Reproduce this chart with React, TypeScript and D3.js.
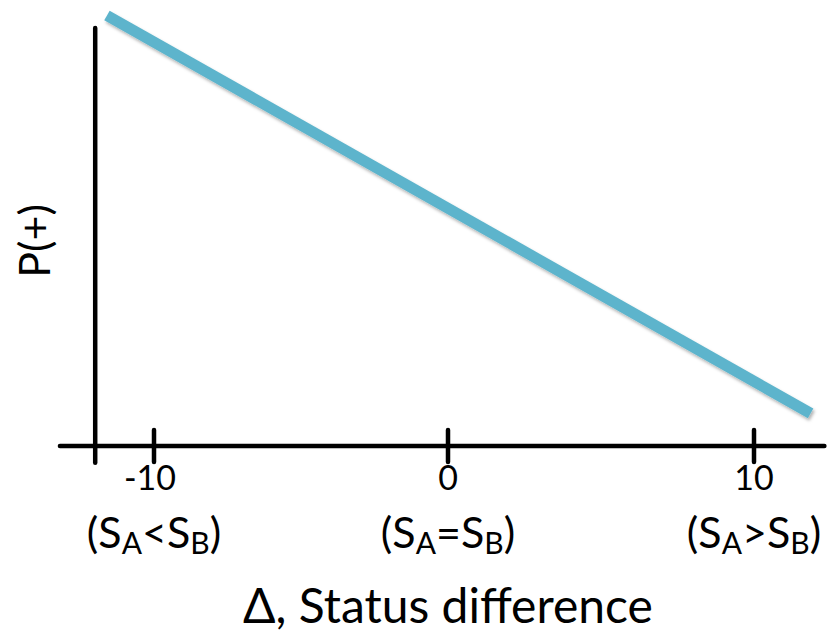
import React from "react";
import * as d3 from "d3";

const W = 827;
const H = 635;

// Status difference ticks and their labels
const tickValues = [-10, 0, 10];
const tickLabels = ["-10", "0", "10"];
const relationLabels = [
  { a: "A", op: "<", b: "B" },
  { a: "A", op: "=", b: "B" },
  { a: "A", op: ">", b: "B" },
];

// Probability of a positive outcome along the status difference
const lineDelta = [-11.6, 11.85];
const lineProb = [1.03, 0.078];

// Axis extents in data units
const xAxisExtent = [-13.2, 12.3];
const yAxisExtent = [0, 1.0];
const yAxisPos = -12.0;
const yAxisBottom = -0.04;

const FONT = "Lato, 'Open Sans', sans-serif";

export default function App() {
  const x = d3.scaleLinear().domain([-10, 0, 10]).range([154, 448, 754]);
  const y = d3.scaleLinear().domain([0, 1]).range([446, 28]);

  const line = d3
    .line<number>()
    .x((_, i) => x(lineDelta[i]))
    .y((d) => y(d));

  const tickTop = y(0) - 16;
  const tickBottom = y(0) + 16;

  return (
    <svg
      width={W}
      height={H}
      style={{ position: "absolute", left: 0, top: 0, background: "#fff" }}
    >
      <defs>
        <filter id="shadow" x="-10%" y="-10%" width="120%" height="130%">
          <feDropShadow dx="1.5" dy="2.5" stdDeviation="1.8" floodColor="#000" floodOpacity="0.3" />
        </filter>
      </defs>

      {/* x axis */}
      <line
        x1={x(xAxisExtent[0])}
        x2={x(xAxisExtent[1])}
        y1={y(0)}
        y2={y(0)}
        stroke="#000"
        strokeWidth={4.5}
        strokeLinecap="round"
      />
      {tickValues.map((t) => (
        <line
          key={t}
          x1={x(t)}
          x2={x(t)}
          y1={tickTop}
          y2={tickBottom}
          stroke="#000"
          strokeWidth={4.5}
          strokeLinecap="round"
        />
      ))}

      {/* y axis */}
      <line
        x1={x(yAxisPos)}
        x2={x(yAxisPos)}
        y1={y(yAxisBottom)}
        y2={y(yAxisExtent[1])}
        stroke="#000"
        strokeWidth={4.5}
        strokeLinecap="round"
      />

      {/* tick labels */}
      {tickValues.map((t, i) => (
        <text
          key={"t" + t}
          x={x(t) - (i === 0 ? 4 : 0)}
          y={490}
          textAnchor="middle"
          fontFamily={FONT}
          fontSize={34}
          fill="#000"
        >
          {tickLabels[i]}
        </text>
      ))}

      {/* relation labels */}
      {tickValues.map((t, i) => {
        const r = relationLabels[i];
        return (
          <text
            key={"r" + t}
            x={x(t)}
            y={548}
            textAnchor="middle"
            fontFamily={FONT}
            fontSize={43}
            fill="#000"
          >
            (S
            <tspan fontSize={30} dy={6}>{r.a}</tspan>
            <tspan dy={-6}>{r.op}S</tspan>
            <tspan fontSize={30} dy={6}>{r.b}</tspan>
            <tspan dy={-6}>)</tspan>
          </text>
        );
      })}

      {/* x axis title */}
      <text
        x={448}
        y={623}
        textAnchor="middle"
        fontFamily={FONT}
        fontSize={48}
        fill="#000"
      >
        Δ, Status difference
      </text>

      {/* y axis title */}
      <text
        transform={`translate(50, 241) rotate(-90)`}
        textAnchor="middle"
        fontFamily={FONT}
        fontSize={43}
        fill="#000"
      >
        P(+)
      </text>

      {/* probability line */}
      <path
        d={line(lineProb) ?? ""}
        fill="none"
        stroke="#5db4cc"
        strokeWidth={11}
        filter="url(#shadow)"
      />
    </svg>
  );
}
